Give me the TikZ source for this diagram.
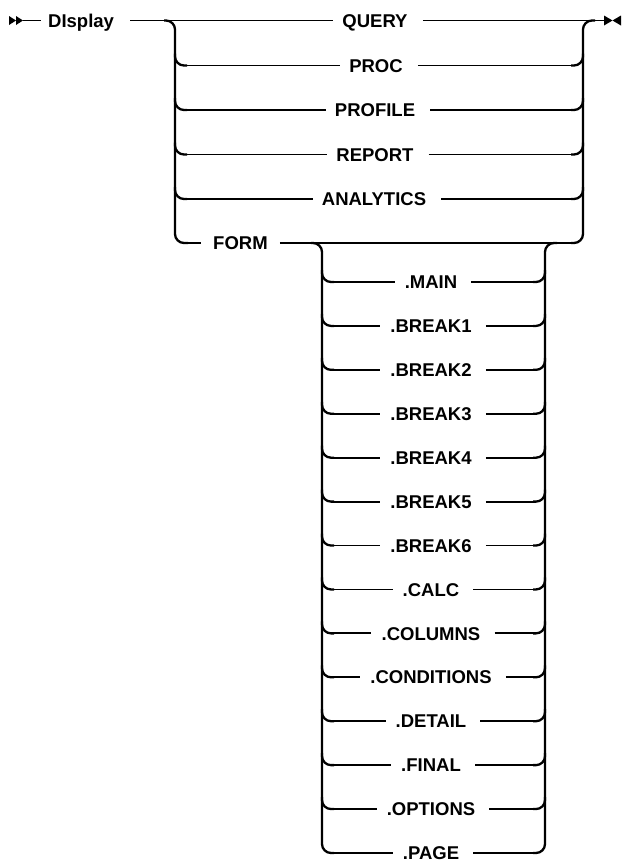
\documentclass[tikz,border=0pt]{standalone}
\usepackage{fontspec}
\newfontfamily\lblfont{Liberation Sans}
\begin{document}
\begin{tikzpicture}[x=1pt,y=-1pt,
  lbl/.style={font=\lblfont\bfseries\fontsize{18.5}{20}\selectfont, text height=13.3pt, text depth=0pt, inner sep=0pt},
  rail/.style={line width=2.3pt, rounded corners=9pt},
  hl/.style={line width=1.8pt},
  tip/.style={fill=black}]
\useasboundingbox (0,0) rectangle (624,863);
% start and end markers
\fill[tip] (9,16) -- (16,20.5) -- (9,25) -- cycle;
\fill[tip] (16,16) -- (23,20.5) -- (16,25) -- cycle;
\coordinate (start) at (23,20.5);
\coordinate (endp) at (604,20.5);
\fill[tip] (604,15.5) -- (612.5,20.5) -- (604,25.5) -- cycle;
\fill[tip] (621,15.5) -- (612.5,20.5) -- (621,25.5) -- cycle;
% keyword
\node[lbl, anchor=west] (disp) at (48,20.5) {DIsplay};
\draw[hl] (start) -- ([xshift=-7pt]disp.west);
% main choices
\node[lbl] (m1) at (375,20.5) {QUERY};
\node[lbl] (m2) at (376,65.5) {PROC};
\node[lbl] (m3) at (375,110) {PROFILE};
\node[lbl] (m4) at (375,154.5) {REPORT};
\node[lbl] (m5) at (374,199) {ANALYTICS};
\node[lbl, anchor=west] (form) at (213,243) {FORM};
\draw[hl] ([xshift=16pt]disp.east) -- ([xshift=-9pt]m1.west);
\draw[hl] ([xshift=15pt]m1.east) -- (endp);
% left main rail
\coordinate (lt) at (164,20.5);
\coordinate (lb) at (175,243);
\draw[rail] (lt) -- (175,20.5) -- (lb) -- (188,243);
% right main rail
\coordinate (rt) at (595,20.5);
\coordinate (rb) at (583,243);
\draw[rail] (571,243) -- (rb) -- (583,20.5) -- (rt);
\foreach \n/\y in {m2/65.5, m3/110, m4/154.5, m5/199}{
  \draw[rail] (175,\y-12) -- (175,\y) -- (187,\y);
  \draw[hl] (186,\y) -- ([xshift=-9pt]\n.west);
  \draw[hl] ([xshift=15pt]\n.east) -- (572,\y);
  \draw[rail] (571,\y) -- (583,\y) -- (583,\y-12);
}
% FORM row
\draw[hl] (186,243) -- ([xshift=-12pt]form.west);
\draw[hl] ([xshift=12pt]form.east) -- (572,243);
% sub choices
\coordinate (sl) at (311,243);
\coordinate (sr) at (557,243);
\draw[rail] (sl) -- (322,243) -- (322,853) -- (334,853);
\draw[rail] (533,853) -- (545,853) -- (545,243) -- (sr);
\foreach \t [count=\k from 0] in {.MAIN,.BREAK1,.BREAK2,.BREAK3,.BREAK4,.BREAK5,.BREAK6,.CALC,.COLUMNS,.CONDITIONS,.DETAIL,.FINAL,.OPTIONS,.PAGE}{
  \pgfmathsetmacro{\yy}{282+43.92*\k}
  \node[lbl] (s\k) at (431,\yy) {\t};
  \ifnum\k<13
    \draw[rail] (322,\yy-12) -- (322,\yy) -- (334,\yy);
    \draw[rail] (533,\yy) -- (545,\yy) -- (545,\yy-12);
  \fi
  \draw[hl] (333,\yy) -- ([xshift=-10pt]s\k.west);
  \draw[hl] ([xshift=14pt]s\k.east) -- (534,\yy);
}
\end{tikzpicture}
\end{document}
